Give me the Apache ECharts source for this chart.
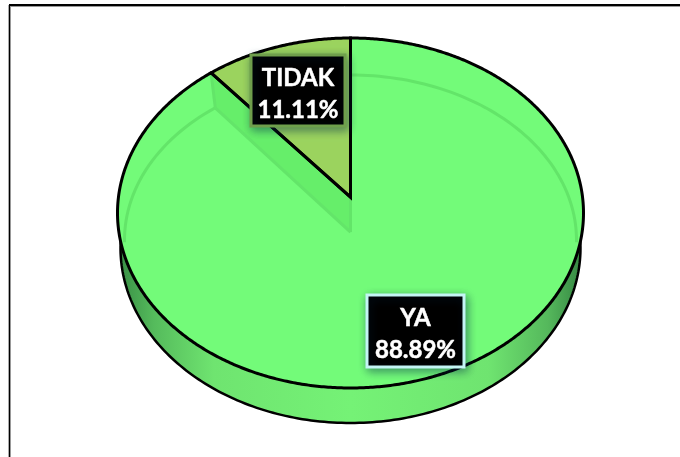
<!DOCTYPE html>
<html><head><meta charset="utf-8">
<style>html,body{margin:0;padding:0;background:#fff}#c{width:680px;height:457px}</style>
<script src="https://cdn.jsdelivr.net/npm/echarts@6/dist/echarts.min.js"></script>
</head><body><div id="c"></div>
<script>
const categories = ['YA', 'TIDAK'];
const values = [88.89, 11.11];
const sliceColors = ['#73fb79', '#9bd35e'];
const labelBorders = ['#c4f5f5', '#6f9f4c'];

// layout
const TOP = {cx: 350.5, cy: 213, rx: 233, ry: 175};
const BOTTOM = {cx: 350.5, cy: 248, rx: 230, ry: 175};
const GHOST = {cx: 350.5, cy: 240, rx: 226, ry: 165};
const TILT = 0.091, GHOST_DROP = 35;
const LABEL_BOXES = [{x: 367, y: 295, w: 97, h: 72}, {x: 251, y: 55, w: 94, h: 71}];
const LABEL_TEXT_DROP = 3.5;

const total = values.reduce((a, b) => a + b, 0);
const rad = d => d * Math.PI / 180;
// clockwise angle from twelve o'clock on the tilted disc -> ellipse parameter
function tiltParam(deg) {
  const x = Math.sin(rad(deg)), y = Math.cos(rad(deg));
  const d = 1 + TILT * y;
  return Math.atan2(x * Math.sqrt(1 - TILT * TILT) / d, (y + TILT) / d);
}
const onEllipse = (e, t) => [e.cx + e.rx * Math.sin(t), e.cy - e.ry * Math.cos(t)];
const tip = [TOP.cx, TOP.cy - TOP.ry * TILT];
const ghostTip = [tip[0], tip[1] + GHOST_DROP];
function arc(e, a0, a1, n) {
  const pts = [];
  for (let i = 0; i <= n; i++) {
    let d = a0 + (a1 - a0) * i / n;
    pts.push(onEllipse(e, tiltParam(d)));
  }
  return pts;
}
const sideFill = new echarts.graphic.LinearGradient(122, 0, 580, 0, [
  {offset: 0, color: '#3b9247'}, {offset: 0.07, color: '#55bb5c'}, {offset: 0.2, color: '#6fe470'},
  {offset: 0.5, color: '#75f276'}, {offset: 0.8, color: '#6fe470'}, {offset: 0.93, color: '#55b85c'},
  {offset: 1, color: '#378a44'}], true);
const ghostLine = '#63e569';

function renderSlice(params, api) {
  const i = params.dataIndex;
  let start = 0;
  for (let k = 0; k < i; k++) start += values[k] / total * 360;
  const end = start + api.value(0) / total * 360;
  const steps = Math.max(8, Math.round(end - start));
  const kids = [];
  // side wall
  kids.push({type: 'polygon', z2: 1, shape: {points: [[BOTTOM.cx, BOTTOM.cy]].concat(arc(BOTTOM, start, end, steps))},
    style: {fill: sideFill, stroke: '#000', lineWidth: 2.5}});
  // top face
  const outer = arc(TOP, start, end, steps * 2);
  kids.push({type: 'polygon', z2: 2, shape: {points: [tip].concat(outer)},
    style: {fill: sliceColors[i], stroke: null}});
  // bevel ghost, only on the large slice
  if (i === 0) {
    const junction = onEllipse(GHOST, tiltParam(end));
    const rim = onEllipse(TOP, tiltParam(end));
    kids.push({type: 'polygon', z2: 3, shape: {points: [rim, tip, ghostTip, junction]},
      style: {fill: '#66ee6a', stroke: null}});
    const lines = [
      [rim, junction], [junction, ghostTip], [tip, ghostTip],
      arc(GHOST, start, 96, 60), arc(GHOST, end, 264, 30)
    ];
    lines.forEach(pts => kids.push({type: 'polyline', z2: 4, shape: {points: pts},
      style: {stroke: ghostLine, lineWidth: 3, fill: null}}));
  }
  // outline
  kids.push({type: 'polygon', z2: 6, shape: {points: [tip].concat(outer)},
    style: {fill: null, stroke: '#000', lineWidth: 3, lineJoin: 'miter'}});
  // label
  const b = LABEL_BOXES[i];
  kids.push({type: 'rect', z2: 10, shape: {x: b.x, y: b.y, width: b.w, height: b.h},
    style: {fill: '#000', stroke: labelBorders[i], lineWidth: 3, shadowBlur: 9, shadowColor: 'rgba(0,40,70,0.45)', shadowOffsetX: 2, shadowOffsetY: 3}});
  kids.push({type: 'text', z2: 11, style: {
    text: categories[i] + '\n' + api.value(0).toFixed(2) + '%',
    x: b.x + b.w / 2, y: b.y + b.h / 2 + LABEL_TEXT_DROP, align: 'center', verticalAlign: 'middle',
    fill: '#fff', stroke: '#fff', lineWidth: 0.5, font: 'bold 24px Lato', lineHeight: 32}});
  return {type: 'group', children: kids};
}

const chart = echarts.init(document.getElementById('c'), null, {renderer: 'canvas'});
chart.setOption({
  animation: false,
  backgroundColor: '#fff',
  graphic: [
    {type: 'line', z: 20, shape: {x1: 9, y1: 6.5, x2: 680, y2: 6.5}, style: {stroke: '#999', lineWidth: 1}},
    {type: 'line', z: 21, shape: {x1: 9, y1: 5, x2: 680, y2: 5}, style: {stroke: '#000', lineWidth: 2}},
    {type: 'line', z: 20, shape: {x1: 8.5, y1: 5, x2: 8.5, y2: 457}, style: {stroke: '#aaa', lineWidth: 1}},
    {type: 'line', z: 20, shape: {x1: 10.5, y1: 5, x2: 10.5, y2: 457}, style: {stroke: '#999', lineWidth: 1}},
    {type: 'line', z: 21, shape: {x1: 9.5, y1: 4, x2: 9.5, y2: 457}, style: {stroke: '#000', lineWidth: 1}}
  ],
  series: [{
    type: 'custom', coordinateSystem: 'none', silent: true, clip: false,
    data: values.map((v, i) => ({name: categories[i], value: [v]})),
    renderItem: renderSlice
  }]
});
</script></body></html>
